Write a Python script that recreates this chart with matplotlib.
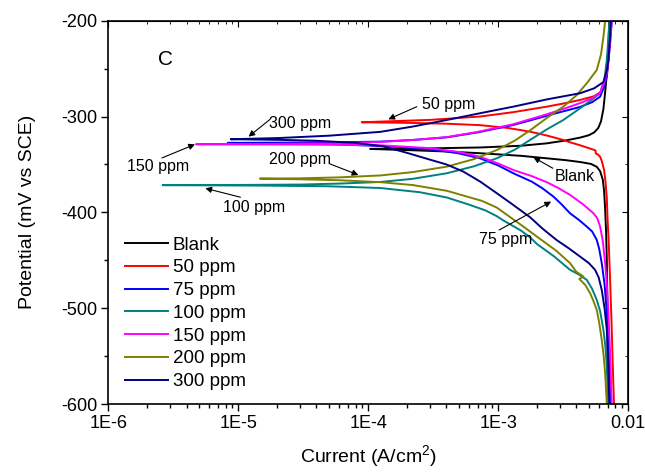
import numpy as np
import matplotlib
matplotlib.use("Agg")
import matplotlib.pyplot as plt
from matplotlib.ticker import LogLocator, NullFormatter, MultipleLocator

plt.rcParams['font.family'] = ['Liberation Sans', 'DejaVu Sans']
plt.rcParams['mathtext.fontset'] = 'custom'
plt.rcParams['mathtext.rm'] = 'Liberation Sans'
plt.rcParams['axes.unicode_minus'] = False

# ---- data: current (A/cm2) and potential (mV vs SCE), cathodic bottom -> Ecorr -> anodic top ----
blank_i = [7.06e-3, 7.0e-3, 6.95e-3, 6.87e-3, 6.78e-3, 6.67e-3, 6.55e-3, 6.40e-3, 6.10e-3, 5.75e-3,
           5.2e-3, 4.3e-3, 3.3e-3, 2.37e-3, 1.5e-3, 7.26e-4, 4.0e-4, 2.2e-4, 1.4e-4, 1.035e-4,
           1.4e-4, 3e-4, 7.26e-4, 1.5e-3, 2.37e-3, 3.3e-3, 4.28e-3, 5.0e-3, 5.5e-3, 5.9e-3,
           6.2e-3, 6.47e-3, 6.7e-3, 6.87e-3, 7.05e-3, 7.19e-3]
blank_e = [-600, -550, -500, -450, -420, -397, -378, -366, -357, -352.5,
           -349.5, -347.5, -345.5, -343.6, -341, -338.3, -336.5, -335.2, -334.4, -333.8,
           -333.6, -333.2, -332.3, -330.5, -328, -325, -322, -319.5, -316.5, -312,
           -305, -292, -272, -255, -230, -200]

ppm50_i = [7.80e-3, 7.6e-3, 7.45e-3, 7.28e-3, 7.1e-3, 6.95e-3, 6.87e-3, 6.7e-3, 6.55e-3, 6.3e-3,
           6.10e-3, 5.85e-3, 5.65e-3, 5.62e-3, 5.4e-3, 5.0e-3, 4.28e-3, 3.6e-3, 3.18e-3, 2.4e-3,
           1.76e-3, 1.2e-3, 7.26e-4, 4e-4, 2e-4, 8.93e-5,
           1.24e-4, 3e-4, 7.26e-4, 1.3e-3, 2.37e-3, 3.3e-3, 4.28e-3, 5.42e-3, 6.1e-3, 6.47e-3,
           6.8e-3, 6.95e-3, 7.2e-3, 7.38e-3]
ppm50_e = [-600, -550, -510, -470, -430, -405, -385, -367, -356, -347,
           -342, -339.5, -338.5, -335.5, -334.5, -333, -330, -327, -324.5, -320,
           -315.8, -312, -309, -307.5, -306.6, -306,
           -305.3, -303.5, -300, -295.5, -289.7, -286, -282.7, -279, -275, -270,
           -258, -250, -225, -200]

ppm75_i = [7.38e-3, 7.15e-3, 6.87e-3, 6.6e-3, 6.28e-3, 6.0e-3, 5.75e-3, 5.3e-3, 4.82e-3, 4.2e-3,
           3.58e-3, 3.1e-3, 2.67e-3, 2.2e-3, 1.82e-3, 1.31e-3, 1.0e-3, 7.26e-4, 5e-4, 3.4e-4,
           1.86e-4, 1e-4, 5.4e-5, 2.5e-5, 8.3e-6,
           2.5e-5, 6e-5, 1.24e-4, 2.2e-4, 4.03e-4, 7e-4, 1.31e-3, 2.0e-3, 2.8e-3, 4.28e-3,
           5.3e-3, 6.10e-3, 6.5e-3, 6.87e-3, 7.1e-3, 7.28e-3, 7.50e-3]
ppm75_e = [-600, -550, -505, -475, -453, -438, -428.8, -420, -414.9, -408,
           -401, -392, -383.6, -375, -368, -359.2, -351, -343.6, -338.5, -335,
           -332, -330.3, -329, -328.2, -327.5,
           -327.2, -326.8, -326.2, -324.5, -321.7, -316.5, -308.8, -302, -296.5, -290,
           -285, -279.3, -270, -258.4, -240, -223.6, -200]

ppm100_i = [7.06e-3, 6.95e-3, 6.87e-3, 6.7e-3, 6.47e-3, 6.1e-3, 5.75e-3, 5.3e-3, 4.82e-3, 4.2e-3,
            3.58e-3, 2.7e-3, 1.99e-3, 1.76e-3, 1.5e-3, 1.10e-3, 9.77e-4, 8e-4, 6e-4, 4.03e-4,
            2.5e-4, 1.24e-4, 5e-5, 1.5e-5, 2.62e-6,
            1e-5, 3e-5, 6e-5, 1.24e-4, 2.2e-4, 4.03e-4, 6.5e-4, 9.77e-4, 1.35e-3, 1.76e-3,
            2.4e-3, 3.18e-3, 4.28e-3, 5.2e-3, 6.10e-3, 6.6e-3, 6.87e-3, 7.05e-3, 7.19e-3]
ppm100_e = [-600, -580, -561, -540, -522.7, -503, -491.4, -480, -470.5, -465,
            -460, -446, -433, -426, -419, -408.5, -404, -398, -392, -384.5,
            -379, -374.6, -372.8, -372.1, -371.6,
            -371.4, -371, -370, -368.3, -365, -359.2, -352, -343.6, -334.5, -324.5,
            -313, -303.6, -291.4, -283, -275.7, -260, -241, -220, -200]

ppm150_i = [7.50e-3, 7.3e-3, 7.06e-3, 6.87e-3, 6.67e-3, 6.4e-3, 6.10e-3, 5.8e-3, 5.42e-3, 4.5e-3,
            3.58e-3, 2.9e-3, 2.37e-3, 1.8e-3, 1.31e-3, 1.0e-3, 7.26e-4, 5e-4, 3e-4, 1.24e-4,
            5e-5, 1.5e-5, 4.73e-6,
            1.5e-5, 5e-5, 1.24e-4, 2.2e-4, 4.03e-4, 7e-4, 1.31e-3, 2.2e-3, 3.2e-3, 4.28e-3,
            5.3e-3, 6.10e-3, 6.5e-3, 6.87e-3, 7.1e-3, 7.28e-3, 7.50e-3]
ppm150_e = [-600, -550, -505, -475, -453, -430, -414.9, -406, -401, -391.5,
            -381.8, -374.5, -368.5, -362, -355.8, -349, -342, -337, -333, -330,
            -329.4, -329.1, -328.9,
            -328.7, -328, -326.5, -324.5, -321.5, -316, -308, -299, -292, -286,
            -281, -275, -266, -255, -238, -222, -200]

ppm200_i = [6.87e-3, 6.78e-3, 6.67e-3, 6.5e-3, 6.28e-3, 6.0e-3, 5.75e-3, 5.4e-3, 5.11e-3, 4.7e-3,
            4.22e-3, 4.54e-3, 4.0e-3, 3.58e-3, 2.8e-3, 1.99e-3, 1.5e-3, 1.10e-3, 9.77e-4, 7.5e-4,
            4.03e-4, 2.2e-4, 1.24e-4, 6e-5, 3e-5, 1.47e-5,
            3e-5, 6e-5, 1.24e-4, 2.2e-4, 4.03e-4, 6.5e-4, 9.77e-4, 1.35e-3, 1.76e-3, 2.4e-3,
            3.18e-3, 4.04e-3, 4.9e-3, 5.75e-3, 6.2e-3, 6.47e-3, 6.67e-3]
ppm200_e = [-600, -585, -567.8, -550, -533.1, -515, -501.8, -492, -484.4, -476,
            -469.5, -467, -462, -453, -440, -425.3, -413, -400, -395, -388,
            -377.5, -371.5, -368.5, -366.5, -365.5, -364.8,
            -364.5, -363.5, -361.5, -358, -352.3, -344.5, -335, -325, -314.5, -301,
            -289.7, -277.5, -264, -251.4, -235, -216.7, -200]

ppm300_i = [7.19e-3, 7.05e-3, 6.87e-3, 6.6e-3, 6.28e-3, 5.95e-3, 5.58e-3, 5.0e-3, 4.28e-3, 3.5e-3,
            2.83e-3, 2.2e-3, 1.76e-3, 1.3e-3, 9.77e-4, 7.3e-4, 5.41e-4, 4e-4, 2.99e-4, 2e-4,
            1.3e-4, 8e-5, 4e-5, 2e-5, 8.75e-6,
            2e-5, 5e-5, 1.24e-4, 2.2e-4, 4.03e-4, 7.3e-4, 1.31e-3, 2.4e-3, 4.28e-3, 5.5e-3,
            6.47e-3, 6.87e-3, 7.06e-3, 7.25e-3, 7.38e-3]
ppm300_e = [-600, -560, -522.7, -500, -481, -468, -460, -453, -446.2, -437.5,
            -429, -417, -405, -392, -380, -368, -357.5, -350, -345, -338,
            -331, -327.5, -325.3, -324.3, -323.7,
            -322.5, -320, -316, -310.5, -303.6, -296.5, -289.7, -282, -275.7, -270.5,
            -264, -252, -241, -220, -200]

labels = ['Blank', '50 ppm', '75 ppm', '100 ppm', '150 ppm', '200 ppm', '300 ppm']
colors = ['#000000', '#FF0000', '#0000FF', '#008080', '#FF00FF', '#808000', '#000080']
series = [(blank_i, blank_e), (ppm50_i, ppm50_e), (ppm75_i, ppm75_e), (ppm100_i, ppm100_e),
          (ppm150_i, ppm150_e), (ppm200_i, ppm200_e), (ppm300_i, ppm300_e)]

xtick_vals = [1e-6, 1e-5, 1e-4, 1e-3, 1e-2]
xtick_labels = ['1E-6', '1E-5', '1E-4', '1E-3', '0.01']
ytick_vals = [-600, -500, -400, -300, -200]

fig = plt.figure(figsize=(6.45, 4.73), dpi=100)
ax = fig.add_axes([108.3 / 645, (473 - 404) / 473, (628 - 108.3) / 645, (404 - 20.7) / 473])

for (xi, ye), lab, c in zip(series, labels, colors):
    ax.plot(xi, ye, color=c, lw=1.4, label=lab, solid_joinstyle='round')

ax.set_xscale('log')
ax.set_xlim(1e-6, 1e-2)
ax.set_ylim(-600, -200)
ax.set_xticks(xtick_vals)
ax.set_xticklabels(xtick_labels)
ax.xaxis.set_minor_locator(LogLocator(base=10, subs=np.arange(2, 10), numticks=20))
ax.xaxis.set_minor_formatter(NullFormatter())
ax.set_yticks(ytick_vals)
ax.yaxis.set_minor_locator(MultipleLocator(50))

ax.tick_params(axis='both', which='major', direction='out', length=5, width=1, labelsize=13, pad=3)
ax.tick_params(axis='both', which='minor', direction='out', length=3, width=1)
for s in ax.spines.values():
    s.set_linewidth(1.2)

# mirrored inward ticks on top/right
axt = ax.secondary_xaxis('top')
axt.set_xticks(xtick_vals)
axt.xaxis.set_minor_locator(LogLocator(base=10, subs=np.arange(2, 10), numticks=20))
axt.tick_params(which='major', direction='in', length=4, labeltop=False)
axt.tick_params(which='minor', direction='in', length=2.5)
axt.set_xticklabels([])
axt.xaxis.set_minor_formatter(NullFormatter())
axr = ax.secondary_yaxis('right')
axr.set_yticks(ytick_vals)
axr.yaxis.set_minor_locator(MultipleLocator(50))
axr.tick_params(which='major', direction='in', length=4)
axr.tick_params(which='minor', direction='in', length=2.5)
axr.set_yticklabels([])

ax.set_xlabel('Current (A/cm$^2$)', fontsize=14, labelpad=8)
ax.set_ylabel('Potential (mV vs SCE)', fontsize=14, labelpad=18)

leg = ax.legend(loc='upper left', bbox_to_anchor=(0.032, 0.437), frameon=False, fontsize=13.5,
                handlelength=2.3, handletextpad=0.25, labelspacing=0.3, borderpad=0, borderaxespad=0)

ax.text(2.74e-6, -241, 'C', fontsize=15, ha='center', va='center')

ann_fs = 11.5
texts = [('50 ppm', (4.14e-4, -287.9), (2.37e-4, -289.7), (1.43e-4, -302.9)),
         ('300 ppm', (2.99e-5, -307), (1.76e-5, -302.9), (1.2e-5, -321)),
         ('150 ppm', (2.42e-6, -352.3), (2.59e-6, -343.2), (4.65e-6, -329)),
         ('200 ppm', (2.99e-5, -345.3), (5.09e-5, -349.5), (8.41e-5, -361)),
         ('100 ppm', (1.33e-5, -394.7), (1.04e-5, -384.2), (5.58e-6, -374.9)),
         ('Blank', (3.92e-3, -362.8), (2.64e-3, -354), (1.87e-3, -342.5)),
         ('75 ppm', (1.15e-3, -428.8), (1.02e-3, -418.4), (2.56e-3, -388.8))]
for t, tp, tail, head in texts:
    ax.text(tp[0], tp[1], t, fontsize=ann_fs, ha='center', va='center')
    ax.annotate('', xy=head, xytext=tail,
                arrowprops=dict(arrowstyle='-|>', color='black', lw=0.8, mutation_scale=9,
                                shrinkA=0, shrinkB=0))

fig.savefig('out.png', dpi=100)
